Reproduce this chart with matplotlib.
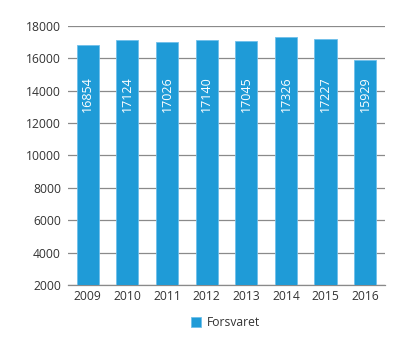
import matplotlib
matplotlib.use("Agg")
import matplotlib.pyplot as plt

years = ["2009", "2010", "2011", "2012", "2013", "2014", "2015", "2016"]
forsvaret = [16854, 17124, 17026, 17140, 17045, 17326, 17227, 15929]
yticks = [2000, 4000, 6000, 8000, 10000, 12000, 14000, 16000, 18000]

plt.rcParams['font.family'] = ['Open Sans', 'DejaVu Sans']
bar_color = "#1f9bd7"
text_color = "#333333"

fig = plt.figure(figsize=(4.14, 3.47), dpi=100)
ax = fig.add_axes([0.164, 0.179, 0.766, 0.746])

x = list(range(len(years)))
ax.bar(x, forsvaret, width=0.56, color=bar_color, edgecolor="#6fc0ea",
       linewidth=0.6, zorder=3, label="Forsvaret")

for xi, v in zip(x, forsvaret):
    ax.text(xi, 13800, str(v), rotation=90, ha="center", va="center",
            color="white", fontsize=9, zorder=4)

ax.set_xlim(-0.5, 7.5)
ax.set_ylim(2000, 18000)
ax.set_yticks(yticks)
ax.set_yticklabels([str(t) for t in yticks])
ax.set_xticks(x)
ax.set_xticklabels(years)
ax.yaxis.grid(True, color="#8a8a8a", linewidth=0.9, zorder=0)
for s in ["left", "right", "top"]:
    ax.spines[s].set_visible(False)
ax.spines["bottom"].set_color("#8a8a8a")
ax.spines["bottom"].set_linewidth(0.9)
ax.tick_params(axis="both", length=0, labelsize=8.7, colors=text_color)
ax.tick_params(axis="y", pad=5)
ax.tick_params(axis="x", pad=4)

leg = fig.legend(loc="center", bbox_to_anchor=(0.545, 0.07), frameon=False,
                 fontsize=8.7, handlelength=0.8, handleheight=0.8,
                 handletextpad=0.5)
for t in leg.get_texts():
    t.set_color(text_color)

fig.savefig("out.png", dpi=100)
